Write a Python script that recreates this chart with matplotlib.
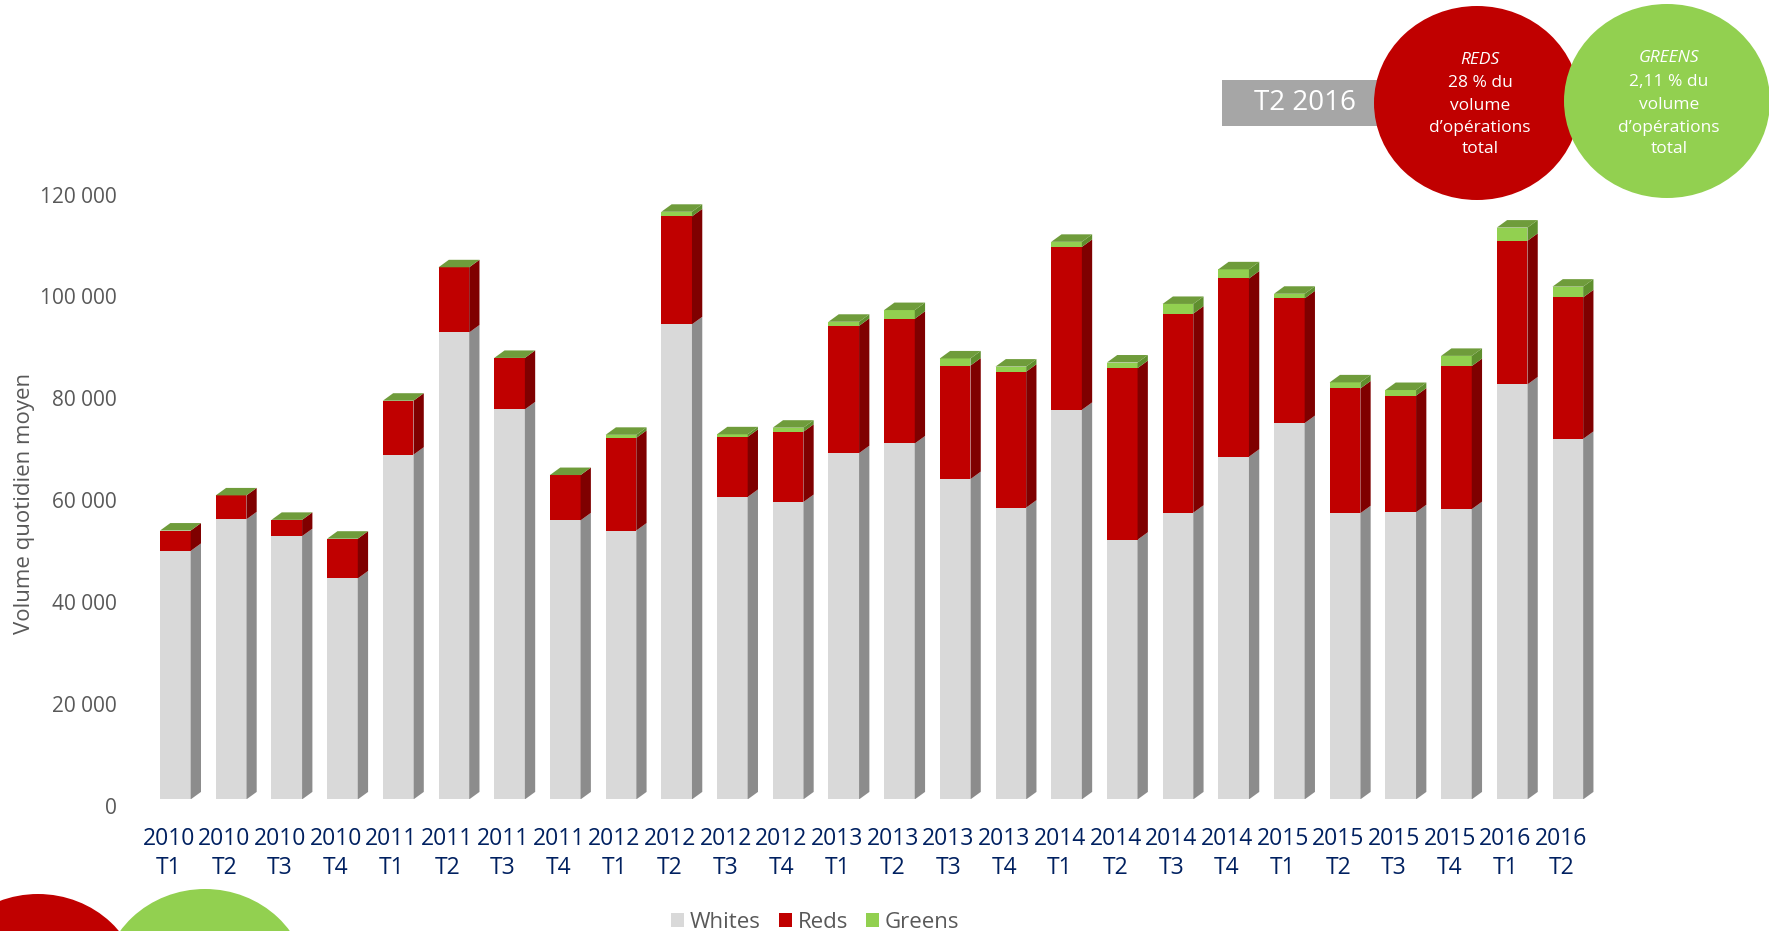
import matplotlib
matplotlib.use('Agg')
import matplotlib.pyplot as plt
from matplotlib.patches import Polygon, Ellipse, Rectangle, Patch
from matplotlib.transforms import ScaledTranslation
import numpy as np

plt.rcParams['font.family'] = ['Open Sans', 'DejaVu Sans']

# quarters shown on the x axis
years = ['2010'] * 4 + ['2011'] * 4 + ['2012'] * 4 + ['2013'] * 4 + ['2014'] * 4 + ['2015'] * 4 + ['2016'] * 2
quarters = ['T1', 'T2', 'T3', 'T4'] * 6 + ['T1', 'T2']

# average daily volume per colour
whites = [48800, 55000, 51700, 43400, 67700, 91700, 76600, 54800, 52800, 93300, 59400, 58400, 68000,
          69900, 62900, 57300, 76500, 51000, 56300, 67300, 73900, 56200, 56400, 57000, 81500, 70800]
reds = [4000, 4700, 3200, 7800, 10600, 12800, 10100, 8900, 18200, 21200, 11800, 13800, 25000,
        24500, 22300, 26700, 32000, 33700, 39100, 35000, 24500, 24500, 22900, 28100, 28200, 27800]
greens = [0, 0, 0, 0, 0, 0, 0, 0, 600, 900, 500, 800, 800,
          1700, 1400, 1000, 1000, 1100, 1900, 1800, 900, 1200, 1100, 2000, 2600, 2100]

series_names = ['Whites', 'Reds', 'Greens']
front_colors = ['#D9D9D9', '#C00000', '#92D050']
side_colors = ['#8C8C8C', '#7F0000', '#5F8F2E']
top_color = '#6F9C3B'

yticks = [0, 20000, 40000, 60000, 80000, 100000, 120000]

W, H = 1769, 931
fig = plt.figure(figsize=(W / 100, H / 100), dpi=100)
ax = fig.add_axes([133.6 / W, (H - 799.4) / H, 1476 / W, 636.5 / H])

labels = [f"{y}\n{q}" for y, q in zip(years, quarters)]
x = np.arange(len(labels))
w = 0.55       # front face width
dx = 0.185     # depth, x direction (data units)
dy = 1470      # depth, y direction (data units)

bottoms = np.zeros(len(x))
for vals, fc, sc in zip([whites, reds, greens], front_colors, side_colors):
    vals = np.array(vals, dtype=float)
    ax.bar(x, vals, w, bottom=bottoms, color=fc, edgecolor='none', zorder=2)
    for xi, b, v in zip(x, bottoms, vals):
        if v <= 0:
            continue
        r = xi + w / 2
        ax.add_patch(Polygon([(r, b), (r + dx, b + dy), (r + dx, b + v + dy), (r, b + v)],
                             closed=True, facecolor=sc, edgecolor='none', zorder=2))
    bottoms = bottoms + vals

# top faces
for xi, t in zip(x, bottoms):
    l, r = xi - w / 2, xi + w / 2
    ax.add_patch(Polygon([(l, t), (l + dx, t + dy), (r + dx, t + dy), (r, t)],
                         closed=True, facecolor=top_color, edgecolor='none', zorder=2))

ax.set_xlim(-0.75, len(x) - 0.25)
ax.set_ylim(0, 125000)
# category labels sit a little left of the front faces, as in the 3d original
ax.set_xticks(x - 0.12)
ax.set_xticklabels(labels, fontsize=16.5, color='#002060', linespacing=1.29)
ax.set_yticks(yticks)
ax.set_yticklabels([f"{v:,}".replace(',', ' ') for v in yticks], fontsize=15, color='#595959')
ax.tick_params(axis='both', length=0)
ax.tick_params(axis='x', pad=20)
ax.tick_params(axis='y', pad=12)
for s in ax.spines.values():
    s.set_visible(False)
ax.patch.set_alpha(0)

# value labels sit on the floor of the 3d chart, a bit below the front faces
off = ScaledTranslation(0, -6.2 / 100, fig.dpi_scale_trans)
for lbl in ax.get_yticklabels():
    lbl.set_transform(lbl.get_transform() + off)

fig.text(25 / W, 1 - 503 / H, 'Volume quotidien moyen', rotation=90, fontsize=16,
         color='#595959', ha='center', va='center')

handles = [Patch(facecolor=c, edgecolor='none') for c in front_colors]
fig.legend(handles, series_names, loc='center', bbox_to_anchor=(815 / W, 1 - 922 / H), ncol=3,
           frameon=False, fontsize=16, handlelength=0.6, handleheight=0.6, handletextpad=0.25,
           columnspacing=0.8, labelcolor='#595959')

# decorations in pixel coordinates
ov = fig.add_axes([0, 0, 1, 1], zorder=5)
ov.set_xlim(0, W)
ov.set_ylim(H, 0)
ov.axis('off')

ov.add_patch(Rectangle((1222, 80), 170, 46, facecolor='#A6A6A6', edgecolor='none'))
ov.text(1305, 103, 'T2 2016', fontsize=20, color='white', ha='center', va='center')

ov.add_patch(Ellipse((1477, 103), 206, 194, facecolor='#C00000', edgecolor='none'))
ov.add_patch(Ellipse((1667, 101), 206, 194, facecolor='#92D050', edgecolor='none'))
ov.add_patch(Ellipse((38, 991), 206, 194, facecolor='#C00000', edgecolor='none'))
ov.add_patch(Ellipse((205, 986), 206, 194, facecolor='#92D050', edgecolor='none'))

red_lines = ['REDS', '28 % du', 'volume', 'd\u2019opérations', 'total']
green_lines = ['GREENS', '2,11 % du', 'volume', 'd\u2019opérations', 'total']
for lines, cx, ys in [(red_lines, 1480, [60, 83, 106, 128, 149]),
                      (green_lines, 1669, [58, 82, 105, 128, 149])]:
    for i, (txt, yy) in enumerate(zip(lines, ys)):
        ov.text(cx, yy, txt, fontsize=12.5, color='white', ha='center', va='center',
                style='italic' if i == 0 else 'normal')

fig.savefig('out.png', dpi=100)
